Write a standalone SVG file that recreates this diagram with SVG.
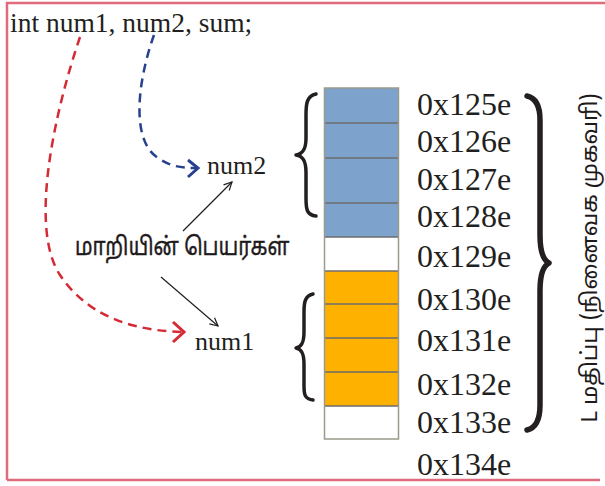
<svg xmlns="http://www.w3.org/2000/svg" width="605" height="486" viewBox="0 0 605 486">
<defs>
<style>
.serif{font-family:"Liberation Serif","Times New Roman",serif;fill:#231f20}
.tam{font-family:"Noto Sans Tamil","Noto Sans","Liberation Sans",sans-serif;fill:#1e1a1b}
.addr{font-size:32px}
.cell{stroke:#6d6d6d;stroke-width:1.5}
.brace{fill:none;stroke:#231f20;stroke-linecap:round;stroke-linejoin:round}
.dash{fill:none;stroke-width:2.5;stroke-dasharray:9 6}
.thin{fill:none;stroke:#231f20;stroke-width:1.2}
</style>
<marker id="ah" viewBox="0 0 10 10" refX="9" refY="5" markerWidth="10" markerHeight="10" markerUnits="userSpaceOnUse" orient="auto">
<path d="M1,1 L9,5 L1,9" fill="none" stroke="#231f20" stroke-width="1.2"/>
</marker>
</defs>
<rect width="605" height="486" fill="#ffffff"/>
<g id="frame">
<path d="M7,480 L7,3 L605,3" fill="none" stroke="#e06b7e" stroke-width="2.5"/>
<path d="M7,480 L600,480" fill="none" stroke="#e06b7e" stroke-width="2.5"/>
</g>
<g id="declaration">
<text class="serif" x="10" y="32" font-size="27.5">int num1, num2, sum;</text>
</g>
<g id="label-num2"><text class="serif" x="207" y="174" font-size="26">num2</text></g>
<g id="label-num1"><text class="serif" x="195" y="350" font-size="26">num1</text></g>
<g id="label-names"><text class="tam" font-size="20.5" stroke="#1e1a1b" stroke-width="0.35" transform="translate(75,255) scale(1,1.22)">மாறியின் பெயர்கள்</text></g>
<g id="memory">
<rect x="324.5" y="88" width="74" height="149" fill="#7da3cd"/>
<rect x="324.5" y="237" width="74" height="34" fill="#ffffff"/>
<rect x="324.5" y="271" width="74" height="135" fill="#ffb100"/>
<rect x="324.5" y="406" width="74" height="33" fill="#ffffff"/>
<g class="cell">
<line x1="324.5" y1="123" x2="398.5" y2="123"/>
<line x1="324.5" y1="158" x2="398.5" y2="158"/>
<line x1="324.5" y1="203" x2="398.5" y2="203"/>
<line x1="324.5" y1="237" x2="398.5" y2="237"/>
<line x1="324.5" y1="271" x2="398.5" y2="271"/>
<line x1="324.5" y1="304" x2="398.5" y2="304"/>
<line x1="324.5" y1="338" x2="398.5" y2="338"/>
<line x1="324.5" y1="372" x2="398.5" y2="372"/>
<line x1="324.5" y1="406" x2="398.5" y2="406"/>
</g>
<rect x="324.5" y="88" width="74" height="351" fill="none" stroke="#9a9a8c" stroke-width="1.5"/>
</g>
<g id="addresses" class="serif addr">
<text x="417" y="115">0x125e</text>
<text x="417" y="152">0x126e</text>
<text x="417" y="190">0x127e</text>
<text x="417" y="227">0x128e</text>
<text x="417" y="267">0x129e</text>
<text x="417" y="310">0x130e</text>
<text x="417" y="351">0x131e</text>
<text x="417" y="395">0x132e</text>
<text x="417" y="433">0x133e</text>
<text x="417" y="475">0x134e</text>
</g>
<g id="brace-num2">
<path class="brace" stroke-width="3.5" d="M316,94 C307,96 306,103 306,115 L306,138 C306,149 303,154 296,155 C303,156 306,161 306,172 L306,198 C306,210 307,215 316,216"/>
</g>
<g id="brace-num1">
<path class="brace" stroke-width="3.5" d="M313,294 C305,296 304,302 304,312 L304,332 C304,342 302,347 296,348 C302,349 304,354 304,364 L304,386 C304,395 305,399 313,400"/>
</g>
<g id="brace-lvalue">
<path class="brace" stroke-width="5.5" d="M527,96 C536,98 540,106 540,120 L540,235 C540,252 543,260 549,263 C543,266 540,274 540,291 L540,405 C540,420 536,428 527,430"/>
</g>
<g id="label-lvalue">
<text class="tam" font-size="22.5" text-anchor="middle" transform="translate(597,258) rotate(-90)">L மதிப்பு (நினைவக முகவரி)</text>
</g>
<g id="connectors">
<path class="dash" stroke="#d42a36" d="M80,37 C52,120 30,230 60,275 C90,320 140,331 183,332"/>
<path d="M173,322 L184,332 L173,342" fill="none" stroke="#d42a36" stroke-width="3"/>
<path class="dash" stroke="#27418f" d="M154,35 C138,80 130,140 158,158 C170,166 180,168 196,168"/>
<path d="M188,160 L198,168 L188,177" fill="none" stroke="#27418f" stroke-width="3"/>
<line class="thin" x1="183" y1="231" x2="232" y2="182" marker-end="url(#ah)"/>
<line class="thin" x1="161" y1="277" x2="218" y2="326" marker-end="url(#ah)"/>
</g>
</svg>
